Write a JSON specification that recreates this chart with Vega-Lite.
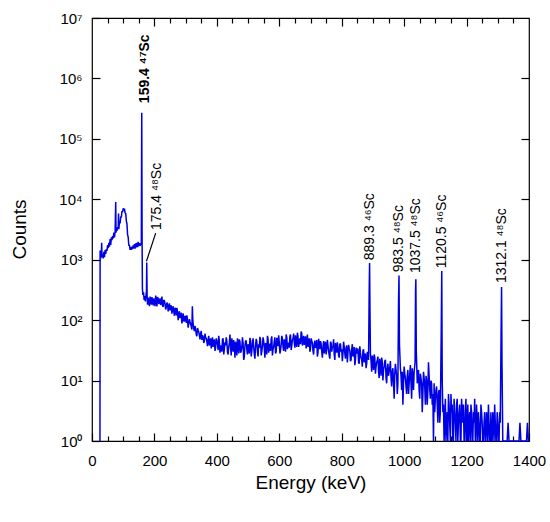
{
  "$schema": "https://vega.github.io/schema/vega-lite/v6.json",
  "width": 437,
  "height": 423,
  "autosize": {"type": "none"},
  "padding": {"left": 92, "top": 18, "right": 21, "bottom": 81},
  "background": "white",
  "config": {
    "view": {"stroke": "black", "strokeWidth": 1.2},
    "axis": {"grid": false, "domain": false, "tickColor": "black", "tickWidth": 1.2, "labelColor": "black", "titleColor": "black", "labelFont": "Liberation Sans", "titleFont": "Liberation Sans", "titleFontWeight": "normal", "labelFlush": false},
    "text": {"font": "Liberation Sans"}
  },
  "datasets": {
    "spectrum": [
      {"energy": 25.5, "counts": 1}, {"energy": 26, "counts": 1420}, {"energy": 28, "counts": 1050}, {"energy": 30, "counts": 1330},
      {"energy": 31, "counts": 1900}, {"energy": 32, "counts": 1100}, {"energy": 34, "counts": 1250}, {"energy": 36, "counts": 1050},
      {"energy": 38, "counts": 1350}, {"energy": 40, "counts": 1100}, {"energy": 42, "counts": 1450}, {"energy": 44, "counts": 1250},
      {"energy": 46, "counts": 1500}, {"energy": 48, "counts": 1400}, {"energy": 50, "counts": 1750}, {"energy": 52, "counts": 1550},
      {"energy": 54, "counts": 1900}, {"energy": 56, "counts": 1650}, {"energy": 58, "counts": 2200}, {"energy": 60, "counts": 1750},
      {"energy": 62, "counts": 2350}, {"energy": 64, "counts": 2100}, {"energy": 66, "counts": 2450}, {"energy": 68, "counts": 2250},
      {"energy": 70, "counts": 2800}, {"energy": 72, "counts": 2350}, {"energy": 74, "counts": 2900}, {"energy": 76, "counts": 9000},
      {"energy": 77, "counts": 2800}, {"energy": 78, "counts": 3100}, {"energy": 80, "counts": 3000}, {"energy": 82, "counts": 3450},
      {"energy": 84, "counts": 3300}, {"energy": 85, "counts": 5800}, {"energy": 86, "counts": 3200}, {"energy": 88, "counts": 4300},
      {"energy": 90, "counts": 4000}, {"energy": 92, "counts": 5200}, {"energy": 94, "counts": 5000}, {"energy": 96, "counts": 6400},
      {"energy": 98, "counts": 6100}, {"energy": 100, "counts": 7100}, {"energy": 102, "counts": 6500}, {"energy": 104, "counts": 7000},
      {"energy": 106, "counts": 5900}, {"energy": 108, "counts": 5900}, {"energy": 110, "counts": 4400}, {"energy": 112, "counts": 3900},
      {"energy": 114, "counts": 2600}, {"energy": 116, "counts": 2350}, {"energy": 118, "counts": 1700}, {"energy": 120, "counts": 1750},
      {"energy": 122, "counts": 1450}, {"energy": 124, "counts": 1620}, {"energy": 126, "counts": 1450}, {"energy": 128, "counts": 1650},
      {"energy": 130, "counts": 1500}, {"energy": 132, "counts": 1720}, {"energy": 134, "counts": 1550}, {"energy": 136, "counts": 1820},
      {"energy": 138, "counts": 1520}, {"energy": 140, "counts": 1870}, {"energy": 142, "counts": 1600}, {"energy": 144, "counts": 1900},
      {"energy": 146, "counts": 1620}, {"energy": 148, "counts": 1980}, {"energy": 150, "counts": 1680}, {"energy": 152, "counts": 1880},
      {"energy": 154, "counts": 1700}, {"energy": 156, "counts": 1850}, {"energy": 158, "counts": 1750}, {"energy": 159.4, "counts": 270000},
      {"energy": 160.5, "counts": 2000}, {"energy": 161.5, "counts": 330}, {"energy": 163, "counts": 260}, {"energy": 165, "counts": 290},
      {"energy": 167, "counts": 215}, {"energy": 169, "counts": 250}, {"energy": 171, "counts": 205}, {"energy": 173, "counts": 260},
      {"energy": 174.5, "counts": 300}, {"energy": 175.4, "counts": 900}, {"energy": 176.5, "counts": 260}, {"energy": 178, "counts": 180},
      {"energy": 180, "counts": 235}, {"energy": 184, "counts": 170}, {"energy": 188, "counts": 215}, {"energy": 192, "counts": 240},
      {"energy": 196, "counts": 175}, {"energy": 200, "counts": 190}, {"energy": 204, "counts": 255}, {"energy": 208, "counts": 168},
      {"energy": 212, "counts": 228}, {"energy": 216, "counts": 205}, {"energy": 220, "counts": 178}, {"energy": 224, "counts": 245},
      {"energy": 228, "counts": 165}, {"energy": 232, "counts": 210}, {"energy": 236, "counts": 150}, {"energy": 240, "counts": 195},
      {"energy": 244, "counts": 140}, {"energy": 248, "counts": 190}, {"energy": 252, "counts": 175}, {"energy": 256, "counts": 128},
      {"energy": 260, "counts": 170}, {"energy": 264, "counts": 118}, {"energy": 268, "counts": 152}, {"energy": 272, "counts": 160},
      {"energy": 276, "counts": 100}, {"energy": 280, "counts": 140}, {"energy": 284, "counts": 125}, {"energy": 288, "counts": 88},
      {"energy": 292, "counts": 130}, {"energy": 296, "counts": 95}, {"energy": 300, "counts": 112}, {"energy": 304, "counts": 120},
      {"energy": 308, "counts": 75}, {"energy": 312, "counts": 104}, {"energy": 316, "counts": 86}, {"energy": 320, "counts": 70},
      {"energy": 321.5, "counts": 170}, {"energy": 323, "counts": 98}, {"energy": 326, "counts": 72}, {"energy": 330, "counts": 80},
      {"energy": 334, "counts": 58}, {"energy": 338, "counts": 74}, {"energy": 342, "counts": 64}, {"energy": 346, "counts": 48},
      {"energy": 350, "counts": 66}, {"energy": 354, "counts": 56}, {"energy": 358, "counts": 42}, {"energy": 362, "counts": 60},
      {"energy": 366, "counts": 50}, {"energy": 370, "counts": 37}, {"energy": 374, "counts": 55}, {"energy": 378, "counts": 46},
      {"energy": 382, "counts": 34}, {"energy": 386, "counts": 52}, {"energy": 390, "counts": 44}, {"energy": 394, "counts": 31},
      {"energy": 398, "counts": 50}, {"energy": 402, "counts": 40}, {"energy": 406, "counts": 55}, {"energy": 410, "counts": 29},
      {"energy": 414, "counts": 38}, {"energy": 418, "counts": 48}, {"energy": 422, "counts": 27}, {"energy": 426, "counts": 43},
      {"energy": 430, "counts": 52}, {"energy": 434, "counts": 30}, {"energy": 438, "counts": 36}, {"energy": 442, "counts": 58},
      {"energy": 446, "counts": 26}, {"energy": 450, "counts": 40}, {"energy": 454, "counts": 47}, {"energy": 458, "counts": 24},
      {"energy": 462, "counts": 35}, {"energy": 466, "counts": 50}, {"energy": 470, "counts": 28}, {"energy": 474, "counts": 44},
      {"energy": 478, "counts": 31}, {"energy": 482, "counts": 52}, {"energy": 486, "counts": 22}, {"energy": 490, "counts": 38},
      {"energy": 494, "counts": 46}, {"energy": 498, "counts": 27}, {"energy": 502, "counts": 34}, {"energy": 506, "counts": 51},
      {"energy": 510, "counts": 25}, {"energy": 514, "counts": 42}, {"energy": 518, "counts": 36}, {"energy": 522, "counts": 23},
      {"energy": 526, "counts": 49}, {"energy": 530, "counts": 30}, {"energy": 534, "counts": 40}, {"energy": 538, "counts": 53},
      {"energy": 542, "counts": 26}, {"energy": 546, "counts": 38}, {"energy": 550, "counts": 45}, {"energy": 554, "counts": 24},
      {"energy": 558, "counts": 33}, {"energy": 562, "counts": 55}, {"energy": 566, "counts": 29}, {"energy": 570, "counts": 41},
      {"energy": 574, "counts": 48}, {"energy": 578, "counts": 26}, {"energy": 582, "counts": 36}, {"energy": 586, "counts": 52},
      {"energy": 590, "counts": 30}, {"energy": 594, "counts": 44}, {"energy": 598, "counts": 56}, {"energy": 602, "counts": 28},
      {"energy": 606, "counts": 39}, {"energy": 610, "counts": 50}, {"energy": 614, "counts": 31}, {"energy": 618, "counts": 45},
      {"energy": 622, "counts": 58}, {"energy": 626, "counts": 33}, {"energy": 630, "counts": 42}, {"energy": 634, "counts": 54},
      {"energy": 638, "counts": 32}, {"energy": 642, "counts": 47}, {"energy": 646, "counts": 60}, {"energy": 650, "counts": 35},
      {"energy": 654, "counts": 44}, {"energy": 658, "counts": 62}, {"energy": 662, "counts": 36}, {"energy": 666, "counts": 50},
      {"energy": 670, "counts": 65}, {"energy": 674, "counts": 38}, {"energy": 678, "counts": 55}, {"energy": 682, "counts": 46},
      {"energy": 686, "counts": 34}, {"energy": 690, "counts": 58}, {"energy": 694, "counts": 40}, {"energy": 698, "counts": 30},
      {"energy": 702, "counts": 50}, {"energy": 706, "counts": 42}, {"energy": 710, "counts": 27}, {"energy": 714, "counts": 46},
      {"energy": 718, "counts": 36}, {"energy": 722, "counts": 25}, {"energy": 726, "counts": 49}, {"energy": 730, "counts": 33},
      {"energy": 734, "counts": 41}, {"energy": 738, "counts": 24}, {"energy": 742, "counts": 45}, {"energy": 746, "counts": 37},
      {"energy": 750, "counts": 27}, {"energy": 754, "counts": 47}, {"energy": 758, "counts": 31}, {"energy": 762, "counts": 23},
      {"energy": 766, "counts": 42}, {"energy": 770, "counts": 36}, {"energy": 774, "counts": 48}, {"energy": 778, "counts": 22},
      {"energy": 782, "counts": 34}, {"energy": 786, "counts": 43}, {"energy": 790, "counts": 26}, {"energy": 794, "counts": 40},
      {"energy": 798, "counts": 30}, {"energy": 802, "counts": 21}, {"energy": 806, "counts": 44}, {"energy": 810, "counts": 28},
      {"energy": 814, "counts": 35}, {"energy": 818, "counts": 20}, {"energy": 822, "counts": 39}, {"energy": 826, "counts": 31},
      {"energy": 830, "counts": 22}, {"energy": 834, "counts": 40}, {"energy": 838, "counts": 27}, {"energy": 842, "counts": 18},
      {"energy": 846, "counts": 35}, {"energy": 850, "counts": 30}, {"energy": 854, "counts": 20}, {"energy": 858, "counts": 37},
      {"energy": 862, "counts": 24}, {"energy": 866, "counts": 17}, {"energy": 870, "counts": 33}, {"energy": 874, "counts": 26},
      {"energy": 878, "counts": 16}, {"energy": 882, "counts": 30}, {"energy": 886, "counts": 22}, {"energy": 888, "counts": 300},
      {"energy": 889.3, "counts": 880}, {"energy": 890.5, "counts": 150}, {"energy": 892, "counts": 28}, {"energy": 896, "counts": 14},
      {"energy": 900, "counts": 22}, {"energy": 904, "counts": 27}, {"energy": 908, "counts": 13}, {"energy": 912, "counts": 20},
      {"energy": 916, "counts": 25}, {"energy": 920, "counts": 11}, {"energy": 924, "counts": 18}, {"energy": 928, "counts": 24},
      {"energy": 932, "counts": 10}, {"energy": 936, "counts": 17}, {"energy": 940, "counts": 22}, {"energy": 944, "counts": 9},
      {"energy": 948, "counts": 19}, {"energy": 952, "counts": 14}, {"energy": 956, "counts": 21}, {"energy": 960, "counts": 8},
      {"energy": 964, "counts": 16}, {"energy": 968, "counts": 5}, {"energy": 972, "counts": 19}, {"energy": 976, "counts": 12},
      {"energy": 980, "counts": 9}, {"energy": 982, "counts": 200}, {"energy": 983.5, "counts": 550}, {"energy": 985, "counts": 40},
      {"energy": 988, "counts": 16}, {"energy": 992, "counts": 7}, {"energy": 996, "counts": 4}, {"energy": 1000, "counts": 17},
      {"energy": 1004, "counts": 11}, {"energy": 1008, "counts": 6}, {"energy": 1012, "counts": 15}, {"energy": 1016, "counts": 9},
      {"energy": 1020, "counts": 18}, {"energy": 1024, "counts": 5}, {"energy": 1028, "counts": 12}, {"energy": 1032, "counts": 14},
      {"energy": 1035, "counts": 20}, {"energy": 1036.5, "counts": 300}, {"energy": 1037.5, "counts": 475}, {"energy": 1039, "counts": 30},
      {"energy": 1042, "counts": 9}, {"energy": 1046, "counts": 15}, {"energy": 1050, "counts": 5}, {"energy": 1054, "counts": 11},
      {"energy": 1058, "counts": 3}, {"energy": 1062, "counts": 14}, {"energy": 1066, "counts": 8}, {"energy": 1070, "counts": 12},
      {"energy": 1074, "counts": 4}, {"energy": 1078, "counts": 20}, {"energy": 1082, "counts": 7}, {"energy": 1086, "counts": 10},
      {"energy": 1090, "counts": 4}, {"energy": 1094, "counts": 1}, {"energy": 1096, "counts": 9}, {"energy": 1100, "counts": 5},
      {"energy": 1104, "counts": 8}, {"energy": 1108, "counts": 2}, {"energy": 1112, "counts": 7}, {"energy": 1116, "counts": 3},
      {"energy": 1119, "counts": 80}, {"energy": 1120.5, "counts": 650}, {"energy": 1122, "counts": 10}, {"energy": 1124, "counts": 3},
      {"energy": 1128, "counts": 1}, {"energy": 1132, "counts": 5}, {"energy": 1136, "counts": 2}, {"energy": 1140, "counts": 1},
      {"energy": 1144, "counts": 4}, {"energy": 1148, "counts": 1}, {"energy": 1150, "counts": 6}, {"energy": 1152, "counts": 3},
      {"energy": 1156, "counts": 1}, {"energy": 1160, "counts": 5}, {"energy": 1164, "counts": 2}, {"energy": 1168, "counts": 4},
      {"energy": 1172, "counts": 1}, {"energy": 1176, "counts": 3}, {"energy": 1180, "counts": 1}, {"energy": 1184, "counts": 5},
      {"energy": 1188, "counts": 2}, {"energy": 1192, "counts": 1}, {"energy": 1196, "counts": 3}, {"energy": 1200, "counts": 1},
      {"energy": 1204, "counts": 4}, {"energy": 1208, "counts": 2}, {"energy": 1212, "counts": 1}, {"energy": 1216, "counts": 3},
      {"energy": 1220, "counts": 1}, {"energy": 1224, "counts": 2}, {"energy": 1228, "counts": 1}, {"energy": 1232, "counts": 4},
      {"energy": 1236, "counts": 1}, {"energy": 1240, "counts": 2}, {"energy": 1244, "counts": 1}, {"energy": 1248, "counts": 3},
      {"energy": 1252, "counts": 1}, {"energy": 1256, "counts": 2}, {"energy": 1260, "counts": 1}, {"energy": 1264, "counts": 3},
      {"energy": 1268, "counts": 1}, {"energy": 1272, "counts": 2}, {"energy": 1276, "counts": 1}, {"energy": 1280, "counts": 1},
      {"energy": 1284, "counts": 3}, {"energy": 1288, "counts": 1}, {"energy": 1292, "counts": 2}, {"energy": 1296, "counts": 1},
      {"energy": 1300, "counts": 2}, {"energy": 1304, "counts": 1}, {"energy": 1308, "counts": 2}, {"energy": 1310.5, "counts": 60},
      {"energy": 1312.1, "counts": 355}, {"energy": 1313.5, "counts": 20}, {"energy": 1316, "counts": 1}, {"energy": 1330, "counts": 1},
      {"energy": 1333, "counts": 2}, {"energy": 1336, "counts": 1}, {"energy": 1368, "counts": 1}, {"energy": 1371, "counts": 2},
      {"energy": 1374, "counts": 1}, {"energy": 1392, "counts": 1}, {"energy": 1395, "counts": 2}, {"energy": 1398, "counts": 1},
      {"energy": 1400, "counts": 1},
      {"energy": 182, "counts": 200}, {"energy": 186, "counts": 245}, {"energy": 190, "counts": 180}, {"energy": 194, "counts": 205},
      {"energy": 198, "counts": 230}, {"energy": 202, "counts": 170}, {"energy": 206, "counts": 220}, {"energy": 210, "counts": 240},
      {"energy": 214, "counts": 185}, {"energy": 218, "counts": 230}, {"energy": 222, "counts": 200}, {"energy": 226, "counts": 175},
      {"energy": 230, "counts": 215}, {"energy": 234, "counts": 185}, {"energy": 238, "counts": 165}, {"energy": 242, "counts": 185},
      {"energy": 246, "counts": 160}, {"energy": 250, "counts": 145}, {"energy": 254, "counts": 170}, {"energy": 258, "counts": 150},
      {"energy": 262, "counts": 140}, {"energy": 266, "counts": 160}, {"energy": 270, "counts": 120}, {"energy": 274, "counts": 135},
      {"energy": 278, "counts": 128}, {"energy": 282, "counts": 108}, {"energy": 286, "counts": 132}, {"energy": 290, "counts": 105},
      {"energy": 294, "counts": 98}, {"energy": 298, "counts": 118}, {"energy": 302, "counts": 90}, {"energy": 306, "counts": 100},
      {"energy": 310, "counts": 88}, {"energy": 314, "counts": 94}, {"energy": 318, "counts": 78}, {"energy": 328, "counts": 66},
      {"energy": 332, "counts": 70}, {"energy": 336, "counts": 54}, {"energy": 340, "counts": 68}, {"energy": 344, "counts": 56},
      {"energy": 348, "counts": 60}, {"energy": 352, "counts": 47}, {"energy": 356, "counts": 54}, {"energy": 360, "counts": 45},
      {"energy": 364, "counts": 52}, {"energy": 368, "counts": 44}, {"energy": 372, "counts": 48}, {"energy": 376, "counts": 38},
      {"energy": 380, "counts": 50}, {"energy": 384, "counts": 42}, {"energy": 388, "counts": 36}, {"energy": 392, "counts": 48},
      {"energy": 396, "counts": 35}, {"energy": 400, "counts": 46}, {"energy": 404, "counts": 32}, {"energy": 408, "counts": 44},
      {"energy": 412, "counts": 36}, {"energy": 416, "counts": 30}, {"energy": 420, "counts": 50}, {"energy": 424, "counts": 33},
      {"energy": 428, "counts": 38}, {"energy": 432, "counts": 45}, {"energy": 436, "counts": 27}, {"energy": 440, "counts": 42},
      {"energy": 444, "counts": 35}, {"energy": 448, "counts": 50}, {"energy": 452, "counts": 30}, {"energy": 456, "counts": 37},
      {"energy": 460, "counts": 44}, {"energy": 464, "counts": 26}, {"energy": 468, "counts": 39}, {"energy": 472, "counts": 48},
      {"energy": 476, "counts": 29}, {"energy": 480, "counts": 36}, {"energy": 484, "counts": 42}, {"energy": 488, "counts": 25},
      {"energy": 492, "counts": 45}, {"energy": 496, "counts": 33}, {"energy": 500, "counts": 40}, {"energy": 504, "counts": 28},
      {"energy": 508, "counts": 46}, {"energy": 512, "counts": 31}, {"energy": 516, "counts": 50}, {"energy": 520, "counts": 27},
      {"energy": 524, "counts": 38}, {"energy": 528, "counts": 44}, {"energy": 532, "counts": 25}, {"energy": 536, "counts": 35},
      {"energy": 540, "counts": 47}, {"energy": 544, "counts": 30}, {"energy": 548, "counts": 52}, {"energy": 552, "counts": 34},
      {"energy": 556, "counts": 42}, {"energy": 560, "counts": 27}, {"energy": 564, "counts": 49}, {"energy": 568, "counts": 36},
      {"energy": 572, "counts": 31}, {"energy": 576, "counts": 54}, {"energy": 580, "counts": 33}, {"energy": 584, "counts": 45},
      {"energy": 588, "counts": 28}, {"energy": 592, "counts": 51}, {"energy": 596, "counts": 37}, {"energy": 600, "counts": 43},
      {"energy": 604, "counts": 32}, {"energy": 608, "counts": 55}, {"energy": 612, "counts": 36}, {"energy": 616, "counts": 48},
      {"energy": 620, "counts": 30}, {"energy": 624, "counts": 52}, {"energy": 628, "counts": 40}, {"energy": 632, "counts": 35},
      {"energy": 636, "counts": 58}, {"energy": 640, "counts": 38}, {"energy": 644, "counts": 50}, {"energy": 648, "counts": 42},
      {"energy": 652, "counts": 56}, {"energy": 656, "counts": 36}, {"energy": 660, "counts": 53}, {"energy": 664, "counts": 44},
      {"energy": 668, "counts": 40}, {"energy": 672, "counts": 60}, {"energy": 676, "counts": 45}, {"energy": 680, "counts": 39},
      {"energy": 684, "counts": 54}, {"energy": 688, "counts": 42}, {"energy": 692, "counts": 36}, {"energy": 696, "counts": 50},
      {"energy": 700, "counts": 34}, {"energy": 704, "counts": 45}, {"energy": 708, "counts": 31}, {"energy": 712, "counts": 40},
      {"energy": 716, "counts": 35}, {"energy": 720, "counts": 47}, {"energy": 724, "counts": 29}, {"energy": 728, "counts": 40},
      {"energy": 732, "counts": 45}, {"energy": 736, "counts": 30}, {"energy": 740, "counts": 36}, {"energy": 744, "counts": 28},
      {"energy": 748, "counts": 44}, {"energy": 752, "counts": 33}, {"energy": 756, "counts": 38}, {"energy": 760, "counts": 26},
      {"energy": 764, "counts": 44}, {"energy": 768, "counts": 30}, {"energy": 772, "counts": 37}, {"energy": 776, "counts": 27},
      {"energy": 780, "counts": 42}, {"energy": 784, "counts": 29}, {"energy": 788, "counts": 36}, {"energy": 792, "counts": 24},
      {"energy": 796, "counts": 41}, {"energy": 800, "counts": 33}, {"energy": 804, "counts": 28}, {"energy": 808, "counts": 36},
      {"energy": 812, "counts": 23}, {"energy": 816, "counts": 38}, {"energy": 820, "counts": 29}, {"energy": 824, "counts": 34},
      {"energy": 828, "counts": 21}, {"energy": 832, "counts": 33}, {"energy": 836, "counts": 25}, {"energy": 840, "counts": 36},
      {"energy": 844, "counts": 22}, {"energy": 848, "counts": 28}, {"energy": 852, "counts": 34}, {"energy": 856, "counts": 19},
      {"energy": 860, "counts": 29}, {"energy": 864, "counts": 22}, {"energy": 868, "counts": 31}, {"energy": 872, "counts": 20},
      {"energy": 876, "counts": 28}, {"energy": 880, "counts": 19}, {"energy": 884, "counts": 26}, {"energy": 894, "counts": 21},
      {"energy": 898, "counts": 26}, {"energy": 902, "counts": 15}, {"energy": 906, "counts": 24}, {"energy": 910, "counts": 17},
      {"energy": 914, "counts": 22}, {"energy": 918, "counts": 14}, {"energy": 922, "counts": 23}, {"energy": 926, "counts": 12},
      {"energy": 930, "counts": 20}, {"energy": 934, "counts": 15}, {"energy": 938, "counts": 21}, {"energy": 942, "counts": 11},
      {"energy": 946, "counts": 16}, {"energy": 950, "counts": 12}, {"energy": 954, "counts": 17}, {"energy": 958, "counts": 11},
      {"energy": 962, "counts": 14}, {"energy": 966, "counts": 9}, {"energy": 970, "counts": 13}, {"energy": 974, "counts": 15},
      {"energy": 978, "counts": 6}, {"energy": 990, "counts": 12}, {"energy": 994, "counts": 14}, {"energy": 998, "counts": 9},
      {"energy": 1002, "counts": 13}, {"energy": 1006, "counts": 8}, {"energy": 1010, "counts": 12}, {"energy": 1014, "counts": 6},
      {"energy": 1018, "counts": 13}, {"energy": 1022, "counts": 9}, {"energy": 1026, "counts": 16}, {"energy": 1030, "counts": 7},
      {"energy": 1044, "counts": 12}, {"energy": 1048, "counts": 7}, {"energy": 1052, "counts": 13}, {"energy": 1056, "counts": 9},
      {"energy": 1060, "counts": 6}, {"energy": 1064, "counts": 11}, {"energy": 1068, "counts": 4}, {"energy": 1072, "counts": 10},
      {"energy": 1076, "counts": 7}, {"energy": 1080, "counts": 12}, {"energy": 1084, "counts": 5}, {"energy": 1088, "counts": 9},
      {"energy": 1092, "counts": 6}, {"energy": 1098, "counts": 3}, {"energy": 1102, "counts": 7}, {"energy": 1106, "counts": 4},
      {"energy": 1110, "counts": 6}, {"energy": 1114, "counts": 2}, {"energy": 1126, "counts": 4}, {"energy": 1130, "counts": 2},
      {"energy": 1134, "counts": 1}, {"energy": 1138, "counts": 3}, {"energy": 1142, "counts": 6}, {"energy": 1146, "counts": 2},
      {"energy": 1154, "counts": 4}, {"energy": 1158, "counts": 1}, {"energy": 1162, "counts": 3}, {"energy": 1166, "counts": 1},
      {"energy": 1170, "counts": 5}, {"energy": 1174, "counts": 2}, {"energy": 1178, "counts": 4}, {"energy": 1182, "counts": 1},
      {"energy": 1186, "counts": 3}, {"energy": 1190, "counts": 4}, {"energy": 1194, "counts": 1}, {"energy": 1198, "counts": 5},
      {"energy": 1202, "counts": 2}, {"energy": 1206, "counts": 1}, {"energy": 1210, "counts": 3}, {"energy": 1214, "counts": 4},
      {"energy": 1218, "counts": 1}, {"energy": 1222, "counts": 3}, {"energy": 1226, "counts": 5}, {"energy": 1230, "counts": 1},
      {"energy": 1234, "counts": 2}, {"energy": 1238, "counts": 3}, {"energy": 1242, "counts": 1}, {"energy": 1246, "counts": 4},
      {"energy": 1250, "counts": 2}, {"energy": 1254, "counts": 1}, {"energy": 1258, "counts": 3}, {"energy": 1262, "counts": 1},
      {"energy": 1266, "counts": 2}, {"energy": 1270, "counts": 4}, {"energy": 1274, "counts": 1}, {"energy": 1278, "counts": 3},
      {"energy": 1282, "counts": 1}, {"energy": 1286, "counts": 2}, {"energy": 1290, "counts": 4}, {"energy": 1294, "counts": 1},
      {"energy": 1298, "counts": 3}, {"energy": 1302, "counts": 1}, {"energy": 1306, "counts": 3}
    ],
    "labels": [
      {"energy": 207, "counts": 3100, "label": "175.4 ⁴⁸Sc"},
      {"energy": 889.3, "counts": 980, "label": "889.3 ⁴⁶Sc"},
      {"energy": 983.5, "counts": 620, "label": "983.5 ⁴⁸Sc"},
      {"energy": 1037.5, "counts": 600, "label": "1037.5 ⁴⁸Sc"},
      {"energy": 1120.5, "counts": 720, "label": "1120.5 ⁴⁶Sc"},
      {"energy": 1312.1, "counts": 410, "label": "1312.1 ⁴⁸Sc"}
    ],
    "main": [
      {"energy": 159.4, "counts": 390000, "label": "159.4 ⁴⁷Sc"}
    ],
    "leader": [
      {"energy": 174.5, "counts": 945, "energy2": 204, "counts2": 2750}
    ]
  },
  "resolve": {"axis": {"x": "independent", "y": "independent"}},
  "layer": [
    {
      "data": {"name": "spectrum"},
      "mark": {"type": "line", "color": "#0000e6", "strokeWidth": 1.5, "strokeJoin": "bevel"},
      "encoding": {
        "x": {"field": "energy", "type": "quantitative", "scale": {"domain": [0, 1400], "nice": false, "zero": false},
          "axis": {"orient": "bottom", "title": "Energy (keV)", "values": [0, 200, 400, 600, 800, 1000, 1200, 1400], "format": "d", "tickSize": -8, "labelPadding": 20, "labelFontSize": 15, "titleFontSize": 19, "titleY": 32}},
        "y": {"field": "counts", "type": "quantitative", "scale": {"type": "log", "domain": [1, 10000000], "nice": false},
          "axis": {"orient": "left", "title": "Counts", "values": [1, 10, 100, 1000, 10000, 100000, 1000000, 10000000], "tickSize": -8, "labelPadding": 18, "labelFontSize": 15, "titleFontSize": 19, "titleX": -63, "titleY": 211,
            "labelExpr": "'10' + ['⁰','¹','²','³','⁴','⁵','⁶','⁷'][round(log(datum.value) / LN10)]"}}
      }
    },
    {
      "data": {"name": "leader"},
      "mark": {"type": "rule", "color": "black", "strokeWidth": 1.2},
      "encoding": {
        "x": {"field": "energy", "type": "quantitative", "scale": {"domain": [0, 1400], "nice": false, "zero": false},
          "axis": {"orient": "bottom", "title": null, "labels": false, "values": [50, 100, 150, 250, 300, 350, 450, 500, 550, 650, 700, 750, 850, 900, 950, 1050, 1100, 1150, 1250, 1300, 1350], "tickSize": -5}},
        "x2": {"field": "energy2"},
        "y": {"field": "counts", "type": "quantitative", "scale": {"type": "log", "domain": [1, 10000000], "nice": false},
          "axis": {"orient": "right", "title": null, "labels": false, "values": [10, 100, 1000, 10000, 100000, 1000000], "tickSize": -8}},
        "y2": {"field": "counts2"}
      }
    },
    {
      "data": {"name": "labels"},
      "mark": {"type": "text", "angle": 270, "align": "left", "baseline": "middle", "fontSize": 14, "color": "black"},
      "encoding": {
        "x": {"field": "energy", "type": "quantitative", "scale": {"domain": [0, 1400], "nice": false, "zero": false},
          "axis": {"orient": "top", "title": null, "labels": false, "values": [200, 400, 600, 800, 1000, 1200], "tickSize": -8}},
        "y": {"field": "counts", "type": "quantitative", "scale": {"type": "log", "domain": [1, 10000000], "nice": false}, "axis": null},
        "text": {"field": "label"}
      }
    },
    {
      "data": {"name": "main"},
      "mark": {"type": "text", "angle": 270, "align": "left", "baseline": "middle", "fontSize": 14, "fontWeight": "bold", "color": "black", "dy": 3},
      "encoding": {
        "x": {"field": "energy", "type": "quantitative", "scale": {"domain": [0, 1400], "nice": false, "zero": false},
          "axis": {"orient": "top", "title": null, "labels": false, "values": [50, 100, 150, 250, 300, 350, 450, 500, 550, 650, 700, 750, 850, 900, 950, 1050, 1100, 1150, 1250, 1300, 1350], "tickSize": -5}},
        "y": {"field": "counts", "type": "quantitative", "scale": {"type": "log", "domain": [1, 10000000], "nice": false}, "axis": null},
        "text": {"field": "label"}
      }
    }
  ]
}
